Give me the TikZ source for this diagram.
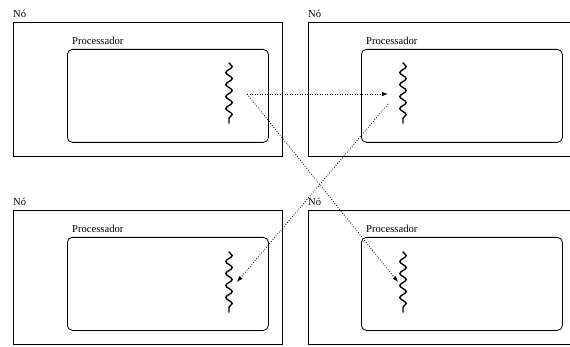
\documentclass[tikz,border=0pt]{standalone}
\usepackage{fontspec}
\setmainfont{Liberation Serif}
\usetikzlibrary{arrows.meta,decorations.pathmorphing,calc}
\begin{document}
\begin{tikzpicture}[x=1pt,y=-1pt,
  outerbox/.style={draw, line width=0.8pt, minimum width=269pt, minimum height=134pt, inner sep=0pt, anchor=north west},
  innerbox/.style={draw, line width=0.8pt, rounded corners=5pt, minimum width=201pt, minimum height=93pt, inner sep=0pt, anchor=north west},
  lbl/.style={font=\fontsize{10.6}{12.5}\selectfont, inner sep=0pt, anchor=base west},
  wavenode/.style={minimum width=34pt, minimum height=60pt, inner sep=0pt},
  wavy/.style={line width=1.4pt, line cap=round, decorate, decoration={snake, amplitude=3.2pt, segment length=12pt}},
  msg/.style={line width=0.8pt, dash pattern=on 0.8pt off 1.7pt, -{Latex[length=6pt,width=4.5pt]}}
]
\useasboundingbox (0,0) rectangle (570,347);
\clip (0,0) rectangle (570,347);
% outer boxes
\node[outerbox] (o1) at (13,22) {};
\node[outerbox] (o2) at (308,22) {};
\node[outerbox] (o3) at (13,210) {};
\node[outerbox] (o4) at (308,210) {};
% inner boxes
\node[innerbox] (i1) at (67,49) {};
\node[innerbox] (i2) at (361,49) {};
\node[innerbox] (i3) at (67,237) {};
\node[innerbox] (i4) at (361,237) {};
% labels
\node[lbl] (n1) at ($(o1.north west)+(0,-4)$) {Nó};
\node[lbl] (n2) at ($(o2.north west)+(0,-4)$) {Nó};
\node[lbl] (n3) at ($(o3.north west)+(0,-4)$) {Nó};
\node[lbl] (n4) at ($(o4.north west)+(0,-4)$) {Nó};
\node[lbl] (p1) at ($(i1.north west)+(5,-4)$) {Processador};
\node[lbl] (p2) at ($(i2.north west)+(5,-4)$) {Processador};
\node[lbl] (p3) at ($(i3.north west)+(5,-4)$) {Processador};
\node[lbl] (p4) at ($(i4.north west)+(5,-4)$) {Processador};
% threads
\node[wavenode] (w1) at (229,93) {};
\node[wavenode] (w2) at (403,93) {};
\node[wavenode] (w3) at (229,282) {};
\node[wavenode] (w4) at (403,282) {};
\draw[wavy] (w1.north) -- (w1.south);
\draw[wavy] (w2.north) -- (w2.south);
\draw[wavy] (w3.north) -- (w3.south);
\draw[wavy] (w4.north) -- (w4.south);
% messages
\coordinate (s1) at ($(w1.center)+(18,1)$);
\coordinate (s2) at ($(w2.center)+(-15,11)$);
\draw[msg] (s1) -- ($(w2.center)+(-15,1)$);
\draw[msg] (s1) -- ($(w4.center)+(-5,0)$);
\draw[msg] (s2) -- ($(w3.center)+(8,0)$);
\end{tikzpicture}
\end{document}
